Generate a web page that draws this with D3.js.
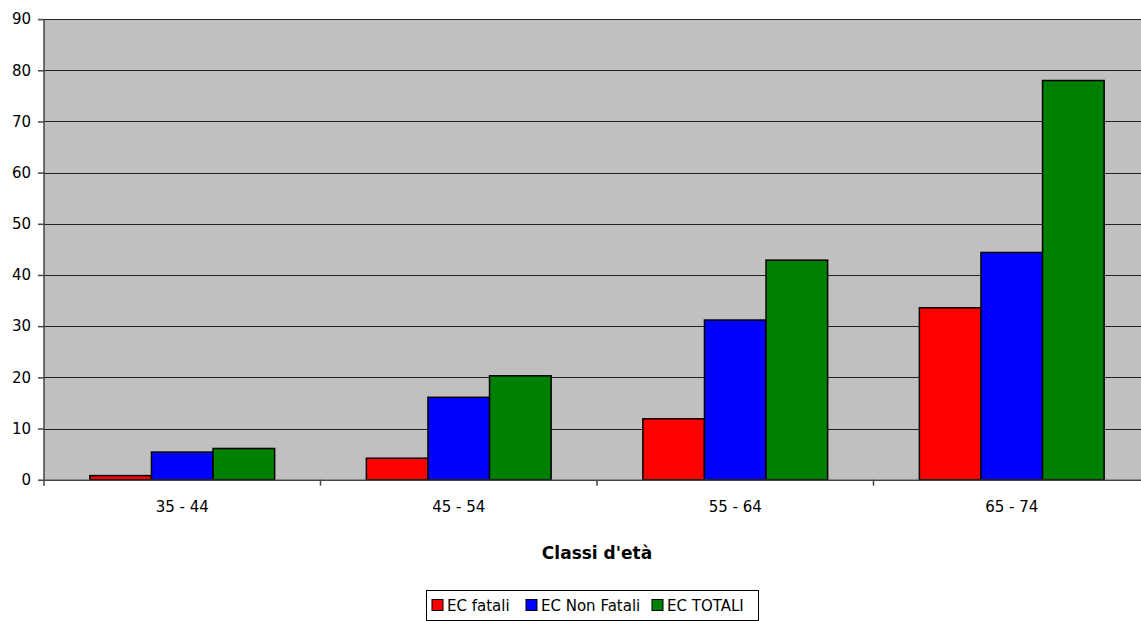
<!DOCTYPE html>
<html>
<head>
<meta charset="utf-8">
<script src="https://cdn.jsdelivr.net/npm/d3@7"></script>
<style>
  html, body { margin: 0; padding: 0; background: #ffffff; }
  svg { display: block; }
</style>
</head>
<body>
<svg id="chart" width="1141" height="621"></svg>
<script>
// Age classes and event counts
const categories = ["35 - 44", "45 - 54", "55 - 64", "65 - 74"];
const seriesNames = ["EC fatali", "EC Non Fatali", "EC TOTALI"];
const ecFatali = [0.8, 4.2, 11.9, 33.6];
const ecNonFatali = [5.4, 16.1, 31.2, 44.4];
const ecTotali = [6.1, 20.3, 42.9, 78.0];
const yTicks = [0, 10, 20, 30, 40, 50, 60, 70, 80, 90];
const colors = ["#ff0000", "#0000ff", "#008000"];

const seriesValues = [ecFatali, ecNonFatali, ecTotali];
const rows = categories.map((c, i) => ({
  cat: c,
  vals: seriesNames.map((s, j) => ({ key: s, value: seriesValues[j][i], color: colors[j] }))
}));

const svg = d3.select("#chart");
const plotLeft = 44, plotRight = 1150, plotTop = 19.1, plotBottom = 479.7;

const x = d3.scaleBand().domain(categories).range([plotLeft, plotRight]).paddingInner(0).paddingOuter(0);
const x1 = d3.scaleBand().domain(seriesNames).range([0, x.bandwidth()]).paddingInner(0).paddingOuter(0.745);
const y = d3.scaleLinear().domain([0, 90]).range([plotBottom, plotTop]);

const baseFont = "'DejaVu Sans', Verdana, sans-serif";
const comicFont = "'Comic Sans MS', 'DejaVu Sans', sans-serif";

// plot background
svg.append("rect")
  .attr("x", plotLeft).attr("y", plotTop)
  .attr("width", plotRight - plotLeft).attr("height", plotBottom - plotTop)
  .attr("fill", "#c0c0c0");

// horizontal gridlines
svg.append("g").selectAll("line")
  .data(yTicks.filter(d => d > 0))
  .join("line")
  .attr("x1", plotLeft).attr("x2", plotRight)
  .attr("y1", d => Math.round(y(d)) + 0.5).attr("y2", d => Math.round(y(d)) + 0.5)
  .attr("stroke", "#222").attr("stroke-width", 1);

// bars
const groups = svg.append("g").selectAll("g")
  .data(rows)
  .join("g")
  .attr("transform", d => `translate(${x(d.cat)},0)`);

groups.selectAll("rect")
  .data(d => d.vals)
  .join("rect")
  .attr("x", d => x1(d.key))
  .attr("y", d => y(d.value))
  .attr("width", x1.bandwidth())
  .attr("height", d => y(0) - y(d.value))
  .attr("fill", d => d.color)
  .attr("stroke", "#000")
  .attr("stroke-width", 1.5);

// y axis
const yAxis = d3.axisLeft(y).tickValues(yTicks).tickSize(6).tickPadding(7);
const gy = svg.append("g")
  .attr("transform", `translate(${plotLeft},0)`)
  .call(yAxis);
gy.select(".domain").attr("stroke", "#444").attr("stroke-width", 1.5).attr("d", `M0,${plotTop}V${plotBottom + 6}`);
gy.selectAll(".tick line").attr("stroke", "#444").attr("stroke-width", 1.5);
gy.selectAll(".tick text").attr("font-family", baseFont).attr("font-size", 15).attr("fill", "#000");

// x axis
const xAxis = d3.axisBottom(x).tickSize(0).tickPadding(22);
const gx = svg.append("g")
  .attr("transform", `translate(0,${plotBottom})`)
  .call(xAxis);
gx.select(".domain").attr("stroke", "#444").attr("stroke-width", 1.5);
gx.selectAll(".tick text").attr("font-family", baseFont).attr("font-size", 15).attr("fill", "#000");

// category separator ticks
svg.append("g").selectAll("line")
  .data(categories.slice(1))
  .join("line")
  .attr("x1", d => x(d)).attr("x2", d => x(d))
  .attr("y1", plotBottom).attr("y2", plotBottom + 6)
  .attr("stroke", "#444").attr("stroke-width", 1.5);

// x axis title
svg.append("text")
  .attr("x", (plotLeft + plotRight) / 2)
  .attr("y", 559)
  .attr("text-anchor", "middle")
  .attr("font-family", comicFont)
  .attr("font-weight", "bold")
  .attr("font-size", 17)
  .text("Classi d'età");

// legend
const legend = svg.append("g");
const legX = 426, legY = 590, legW = 332, legH = 30;
legend.append("rect")
  .attr("x", legX + 0.5).attr("y", legY + 0.5)
  .attr("width", legW).attr("height", legH)
  .attr("fill", "#fff").attr("stroke", "#000").attr("stroke-width", 1);

const legItems = [
  { name: seriesNames[0], color: colors[0], dx: 6 },
  { name: seriesNames[1], color: colors[1], dx: 100 },
  { name: seriesNames[2], color: colors[2], dx: 226 }
];
const li = legend.selectAll("g.item")
  .data(legItems)
  .join("g")
  .attr("class", "item")
  .attr("transform", d => `translate(${legX + d.dx},${legY})`);
li.append("rect")
  .attr("x", 0).attr("y", 9.5)
  .attr("width", 11).attr("height", 11)
  .attr("fill", d => d.color).attr("stroke", "#000").attr("stroke-width", 1);
li.append("text")
  .attr("x", 15).attr("y", 21)
  .attr("font-family", comicFont)
  .attr("font-size", 15)
  .text(d => d.name);
</script>
</body>
</html>
